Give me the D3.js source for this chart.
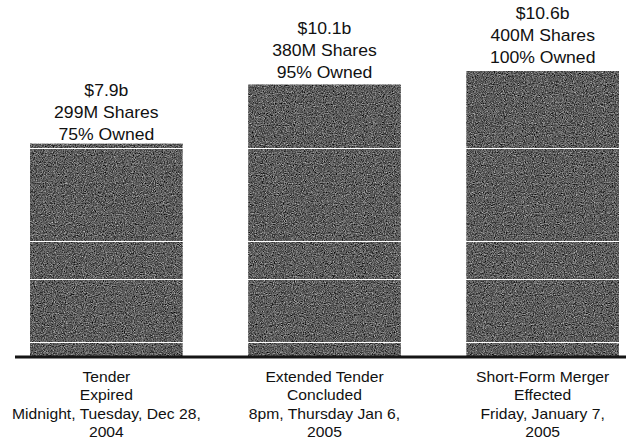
<!DOCTYPE html>
<html>
<head>
<meta charset="utf-8">
<script src="https://d3js.org/d3.v7.min.js"></script>
<style>
  body { margin: 0; background: #fff; }
  svg { display: block; }
  .lbl { font-family: "Liberation Sans", Arial, sans-serif; fill: #111; }
</style>
</head>
<body>
<div id="chart"></div>
<script>
// values in $ billions
var values = [7.9, 10.1, 10.6];
var valueLabels = ["$7.9b", "$10.1b", "$10.6b"];
var shareLabels = ["299M Shares", "380M Shares", "400M Shares"];
var ownedLabels = ["75% Owned", "95% Owned", "100% Owned"];
var categories = [
  ["Tender", "Expired", "Midnight, Tuesday, Dec 28,", "2004"],
  ["Extended Tender", "Concluded", "8pm, Thursday Jan 6,", "2005"],
  ["Short-Form Merger", "Effected", "Friday, January 7,", "2005"]
];
// faint white gridlines that show through the bars
var gridValues = [7.75, 4.28, 2.86, 0.52];

var W = 626, H = 444;
var baseY = 356;

var svg = d3.select("#chart").append("svg")
    .attr("width", W)
    .attr("height", H);

// scanned-print grain for the bars
var defs = svg.append("defs");
var f = defs.append("filter").attr("id", "grain")
    .attr("x", 0).attr("y", 0).attr("width", 1).attr("height", 1)
    .attr("color-interpolation-filters", "sRGB");
f.append("feTurbulence").attr("type", "fractalNoise")
    .attr("baseFrequency", 0.9).attr("numOctaves", 2).attr("seed", 4).attr("result", "noise");
f.append("feColorMatrix").attr("in", "noise").attr("type", "matrix")
    .attr("values", "0.33 0.33 0.33 0 0  0.33 0.33 0.33 0 0  0.33 0.33 0.33 0 0  0 0 0 0 1")
    .attr("result", "gray");
var ct = f.append("feComponentTransfer").attr("in", "gray").attr("result", "tone");
["feFuncR", "feFuncG", "feFuncB"].forEach(function(n) {
  ct.append(n).attr("type", "linear").attr("slope", 1.6).attr("intercept", -0.43);
});
f.append("feComposite").attr("in", "tone").attr("in2", "SourceGraphic").attr("operator", "in");

var x = d3.scaleBand()
    .domain(d3.range(values.length))
    .range([30, 619])
    .paddingInner(0.3)
    .paddingOuter(0);

var y = d3.scaleLinear()
    .domain([0, 10.6])
    .range([baseY, 71]);

svg.selectAll(".bar")
    .data(values)
  .enter().append("rect")
    .attr("class", "bar")
    .attr("x", function(d, i) { return x(i); })
    .attr("y", function(d) { return y(d); })
    .attr("width", x.bandwidth())
    .attr("height", function(d) { return baseY + 2 - y(d); })
    .attr("fill", "#555")
    .attr("filter", "url(#grain)");

svg.selectAll(".grid")
    .data(gridValues)
  .enter().append("line")
    .attr("class", "grid")
    .attr("x1", 15).attr("x2", W)
    .attr("y1", function(d) { return Math.round(y(d)) + 0.5; })
    .attr("y2", function(d) { return Math.round(y(d)) + 0.5; })
    .attr("stroke", "#fff")
    .attr("stroke-width", 1);

// baseline
svg.append("line")
    .attr("x1", 15).attr("x2", W)
    .attr("y1", baseY + 1).attr("y2", baseY + 1)
    .attr("stroke", "#151515")
    .attr("stroke-width", 3);

// labels above bars
var heads = svg.selectAll(".head")
    .data(values)
  .enter().append("g")
    .attr("class", "head")
    .attr("transform", function(d, i) {
      return "translate(" + (x(i) + x.bandwidth() / 2) + "," + (y(d) - 4 - 2 * i) + ") scale(1.1,1)";
    });

heads.append("text").attr("class", "lbl")
    .attr("text-anchor", "middle").attr("font-size", 16)
    .attr("y", -44).text(function(d, i) { return valueLabels[i]; });
heads.append("text").attr("class", "lbl")
    .attr("text-anchor", "middle").attr("font-size", 16)
    .attr("y", -22).text(function(d, i) { return shareLabels[i]; });
heads.append("text").attr("class", "lbl")
    .attr("text-anchor", "middle").attr("font-size", 16)
    .attr("y", 0).text(function(d, i) { return ownedLabels[i]; });

// category labels below axis
var cats = svg.selectAll(".cat")
    .data(categories)
  .enter().append("g")
    .attr("class", "cat")
    .attr("transform", function(d, i) {
      return "translate(" + (x(i) + x.bandwidth() / 2) + "," + 382 + ") scale(1.12,1)";
    });

cats.selectAll("text")
    .data(function(d) { return d; })
  .enter().append("text")
    .attr("class", "lbl")
    .attr("text-anchor", "middle")
    .attr("font-size", 14)
    .attr("y", function(d, j) { return j * 18.4; })
    .text(function(d) { return d; });
</script>
</body>
</html>
